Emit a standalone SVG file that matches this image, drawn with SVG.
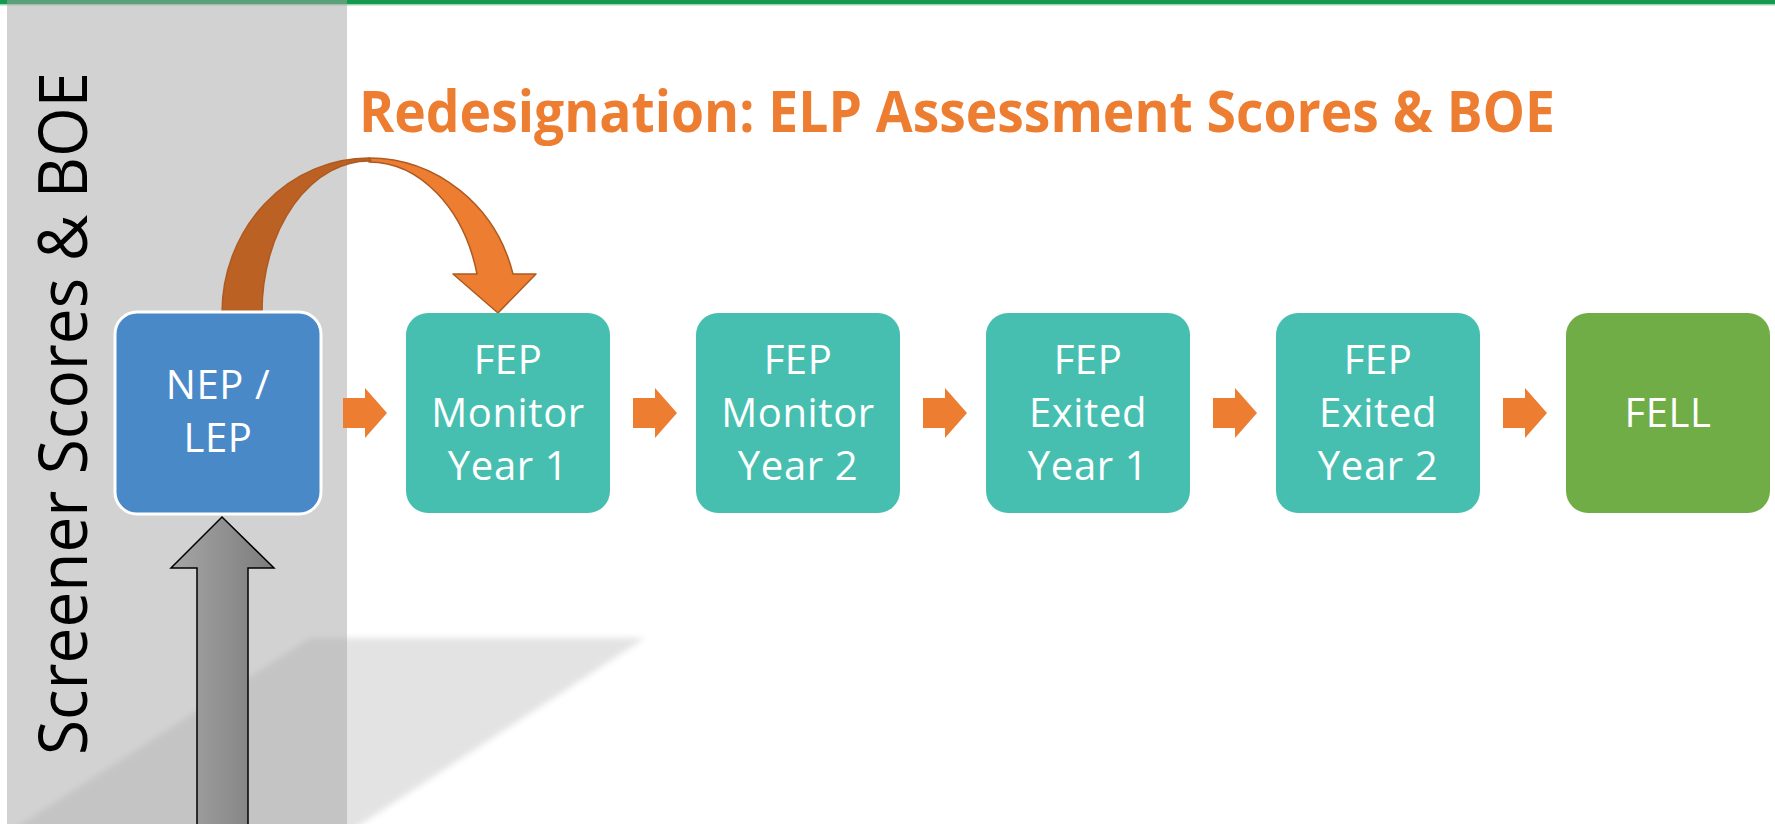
<svg xmlns="http://www.w3.org/2000/svg" width="1775" height="824" viewBox="0 0 1775 824">
<defs>
<style>
.box-text{font-family:"Open Sans","Liberation Sans",sans-serif;font-size:40px;letter-spacing:0.6px;fill:#ffffff;text-anchor:middle;}
.teal{fill:#47bfb0;}
.sarrow{fill:#ed7d31;}
</style>
<filter id="blur" x="-20%" y="-20%" width="140%" height="140%"><feGaussianBlur stdDeviation="3"/></filter>
<linearGradient id="gray" x1="0" y1="0" x2="1" y2="0">
<stop offset="0" stop-color="#a6a6a6"/>
<stop offset="1" stop-color="#7c7c7c"/>
</linearGradient>
<path id="sa" d="M0,0 L22,0 L22,-10 L44,15 L22,40 L22,30 L0,30 Z"/>
</defs>
<rect width="1775" height="824" fill="#ffffff"/>
<polygon points="310,638 645,638 352,830 12,830" fill="#e3e3e3" filter="url(#blur)"/>
<rect x="0" y="0" width="1775" height="4" fill="#139a4f"/>
<rect x="0" y="4" width="1775" height="1.5" fill="#9fd6b2"/>
<rect x="7" y="0" width="340" height="824" fill="#a5a5a5" fill-opacity="0.5"/>
<text transform="translate(87,755) rotate(-90)" font-family="Open Sans, Liberation Sans, sans-serif" font-size="67" fill="#000000" textLength="683" lengthAdjust="spacingAndGlyphs">Screener Scores &amp; BOE</text>
<text x="359" y="132" font-family="Open Sans, Liberation Sans, sans-serif" font-weight="bold" font-size="57" fill="#ed7d31" textLength="1196" lengthAdjust="spacingAndGlyphs">Redesignation: ELP Assessment Scores &amp; BOE</text>
<g id="connectors">
<g id="curved-arrow" stroke="#ae5a21" stroke-width="1.5" stroke-linejoin="round">
<path d="M369,158 A149,155 0 0 1 513,274 L536,274 L498,313 L453,274 L477,274 A112,151 0 0 0 369,162 Z" fill="#ed7d31"/>
<path d="M222,313 A147,155 0 0 1 369,158 L371,161 A107,151 0 0 0 262,313 Z" fill="#bc6124"/>
</g>
<path id="screener-arrow" d="M222,517 L274,568 L248,568 L248,826 L197,826 L197,568 L171,568 Z" fill="url(#gray)" stroke="#000000" stroke-width="1.5"/>
<use href="#sa" class="sarrow" x="343" y="398"/>
<use href="#sa" class="sarrow" x="633" y="398"/>
<use href="#sa" class="sarrow" x="923" y="398"/>
<use href="#sa" class="sarrow" x="1213" y="398"/>
<use href="#sa" class="sarrow" x="1503" y="398"/>
</g>
<g id="node-nep-lep">
<rect x="115" y="312" width="206" height="202" rx="22" fill="#4a89c8" stroke="#ffffff" stroke-width="3"/>
<text class="box-text" x="218" y="399">NEP /</text>
<text class="box-text" x="218" y="452">LEP</text>
</g>
<g id="node-fep-monitor-1">
<rect class="teal" x="406" y="313" width="204" height="200" rx="22"/>
<text class="box-text" x="508" y="374">FEP</text>
<text class="box-text" x="508" y="427">Monitor</text>
<text class="box-text" x="508" y="480">Year 1</text>
</g>
<g id="node-fep-monitor-2">
<rect class="teal" x="696" y="313" width="204" height="200" rx="22"/>
<text class="box-text" x="798" y="374">FEP</text>
<text class="box-text" x="798" y="427">Monitor</text>
<text class="box-text" x="798" y="480">Year 2</text>
</g>
<g id="node-fep-exited-1">
<rect class="teal" x="986" y="313" width="204" height="200" rx="22"/>
<text class="box-text" x="1088" y="374">FEP</text>
<text class="box-text" x="1088" y="427">Exited</text>
<text class="box-text" x="1088" y="480">Year 1</text>
</g>
<g id="node-fep-exited-2">
<rect class="teal" x="1276" y="313" width="204" height="200" rx="22"/>
<text class="box-text" x="1378" y="374">FEP</text>
<text class="box-text" x="1378" y="427">Exited</text>
<text class="box-text" x="1378" y="480">Year 2</text>
</g>
<g id="node-fell">
<rect x="1566" y="313" width="204" height="200" rx="22" fill="#70ad47"/>
<text class="box-text" x="1668" y="427">FELL</text>
</g>
</svg>
